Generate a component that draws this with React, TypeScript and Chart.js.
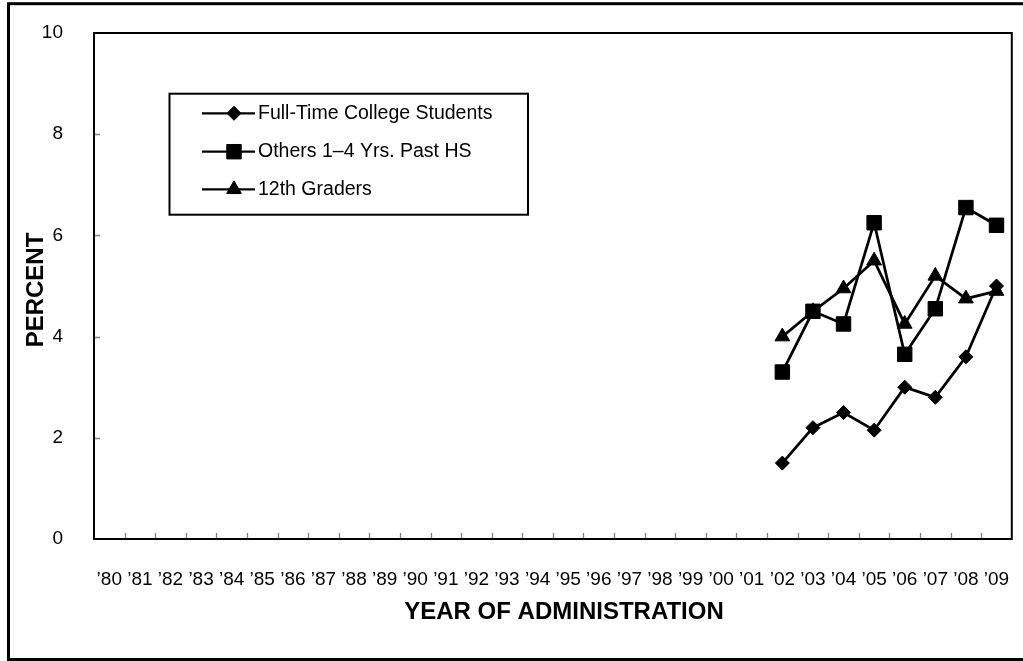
import React, { useEffect, useRef } from "react";
import { Chart, registerables } from "chart.js";

Chart.register(...registerables);

// ---- data ----
const years = [
  "\u201980", "\u201981", "\u201982", "\u201983", "\u201984", "\u201985", "\u201986", "\u201987",
  "\u201988", "\u201989", "\u201990", "\u201991", "\u201992", "\u201993", "\u201994", "\u201995",
  "\u201996", "\u201997", "\u201998", "\u201999", "\u201900", "\u201901", "\u201902", "\u201903",
  "\u201904", "\u201905", "\u201906", "\u201907", "\u201908", "\u201909",
];
const seriesYears = ["\u201902", "\u201903", "\u201904", "\u201905", "\u201906", "\u201907", "\u201908", "\u201909"];
const fullTimeCollege = [1.5, 2.2, 2.5, 2.15, 3.0, 2.8, 3.6, 5.0];
const othersPastHS = [3.3, 4.5, 4.25, 6.25, 3.65, 4.55, 6.55, 6.2];
const twelfthGraders = [4.0, 4.5, 4.95, 5.5, 4.25, 5.2, 4.75, 4.9];
const seriesNames = ["Full-Time College Students", "Others 1\u20134 Yrs. Past HS", "12th Graders"];
const yTickValues = [2, 4, 6, 8];
const xTitle = "YEAR OF ADMINISTRATION";
const yTitle = "PERCENT";

const FONT = "'Liberation Sans', Arial, Helvetica, sans-serif";
const styles = ["rectRot", "rect", "triangle"];
const radii = [7, 10.2, 8.5];

function drawMarker(ctx: CanvasRenderingContext2D, style: string, x: number, y: number, r: number) {
  ctx.beginPath();
  if (style === "rectRot") {
    ctx.moveTo(x, y - r);
    ctx.lineTo(x + r, y);
    ctx.lineTo(x, y + r);
    ctx.lineTo(x - r, y);
    ctx.closePath();
  } else if (style === "rect") {
    const s = Math.SQRT1_2 * r;
    ctx.rect(x - s, y - s, 2 * s, 2 * s);
  } else {
    let a = 0;
    ctx.moveTo(x + Math.sin(a) * r, y - Math.cos(a) * r);
    a += (2 * Math.PI) / 3;
    ctx.lineTo(x + Math.sin(a) * r, y - Math.cos(a) * r);
    a += (2 * Math.PI) / 3;
    ctx.lineTo(x + Math.sin(a) * r, y - Math.cos(a) * r);
    ctx.closePath();
  }
  ctx.fill();
  ctx.stroke();
}

const decor = {
  id: "decor",
  beforeDraw(chart: any) {
    const ctx = chart.ctx as CanvasRenderingContext2D;
    ctx.save();
    ctx.fillStyle = "#ffffff";
    ctx.fillRect(0, 0, chart.width, chart.height);
    ctx.strokeStyle = "#000";
    ctx.lineWidth = 3;
    ctx.strokeRect(8.5, 3.7, 1100, 655.8);
    ctx.restore();
  },
  beforeDatasetsDraw(chart: any) {
    const ctx = chart.ctx as CanvasRenderingContext2D;
    const a = chart.chartArea;
    const xs = chart.scales.x;
    const ys = chart.scales.y;
    ctx.save();
    // inner tick marks
    ctx.strokeStyle = "#808080";
    ctx.lineWidth = 1.3;
    ctx.beginPath();
    for (let i = 1; i < years.length; i++) {
      const px = Math.round((xs.getPixelForTick(i - 1) + xs.getPixelForTick(i)) / 2) + 0.5;
      ctx.moveTo(px, a.bottom);
      ctx.lineTo(px, a.bottom - 6);
    }
    for (const v of yTickValues) {
      const py = Math.round(ys.getPixelForValue(v)) + 0.5;
      ctx.moveTo(a.left, py);
      ctx.lineTo(a.left + 6, py);
    }
    ctx.stroke();
    // plot border
    ctx.strokeStyle = "#000";
    ctx.lineWidth = 2;
    ctx.strokeRect(a.left, a.top, a.right - a.left, a.bottom - a.top);
    ctx.restore();
  },
  afterDraw(chart: any) {
    const ctx = chart.ctx as CanvasRenderingContext2D;
    ctx.save();
    ctx.fillStyle = "#000";
    ctx.strokeStyle = "#000";
    // axis titles
    ctx.font = `bold 24px ${FONT}`;
    ctx.textAlign = "center";
    ctx.textBaseline = "middle";
    ctx.fillText(xTitle, 564, 612.5);
    ctx.save();
    ctx.translate(36.5, 290);
    ctx.rotate(-Math.PI / 2);
    ctx.fillText(yTitle, 0, 0);
    ctx.restore();
    // legend
    ctx.lineWidth = 2;
    ctx.strokeRect(169.5, 93.7, 358.5, 121);
    const rows = [113.3, 151.7, 189.3];
    ctx.font = `19.5px ${FONT}`;
    ctx.textAlign = "left";
    for (let i = 0; i < seriesNames.length; i++) {
      const y = rows[i];
      ctx.lineWidth = 2.25;
      ctx.beginPath();
      ctx.moveTo(202, y);
      ctx.lineTo(255, y);
      ctx.stroke();
      ctx.lineWidth = 1;
      drawMarker(ctx, styles[i], 234, y, radii[i]);
      ctx.fillText(seriesNames[i], 258, y);
    }
    ctx.restore();
  },
};

function toPoints(vals: number[]) {
  return vals.map((v, i) => ({ x: seriesYears[i], y: v }));
}

export default function App() {
  const ref = useRef<HTMLCanvasElement | null>(null);
  useEffect(() => {
    if (!ref.current) return;
    const seriesData = [fullTimeCollege, othersPastHS, twelfthGraders];
    const chart = new Chart(ref.current, {
      type: "line",
      data: {
        labels: years,
        datasets: seriesData.map((vals, i) => ({
          label: seriesNames[i],
          data: toPoints(vals),
          borderColor: "#000",
          backgroundColor: "#000",
          borderWidth: 2.75,
          pointStyle: styles[i] as any,
          pointRadius: radii[i],
          pointBorderWidth: 1,
          pointBorderColor: "#000",
          pointBackgroundColor: "#000",
          tension: 0,
          fill: false,
        })),
      },
      options: {
        animation: false,
        responsive: false,
        devicePixelRatio: 1,
        layout: { padding: { left: 0, top: 33, right: 9, bottom: 0 } },
        plugins: { legend: { display: false }, tooltip: { enabled: false } },
        scales: {
          x: {
            type: "category",
            offset: true,
            grid: { display: false },
            border: { display: false },
            ticks: {
              font: { family: FONT, size: 19 },
              color: "#000",
              padding: 21,
              autoSkip: false,
              maxRotation: 0,
              minRotation: 0,
            },
            afterFit: (s: any) => {
              s.height = 122;
              s.paddingLeft = 0;
              s.paddingRight = 0;
            },
          },
          y: {
            min: 0,
            max: 10,
            grid: { display: false },
            border: { display: false },
            ticks: {
              stepSize: 2,
              font: { family: FONT, size: 19 },
              color: "#000",
              padding: 23,
            },
            afterFit: (s: any) => {
              s.width = 94;
              s.paddingTop = 0;
              s.paddingBottom = 0;
            },
          },
        },
      } as any,
      plugins: [decor],
    });
    return () => chart.destroy();
  }, []);
  return (
    <canvas
      ref={ref}
      width={1023}
      height={661}
      style={{ position: "absolute", left: 0, top: 0, display: "block", width: 1023, height: 661 }}
    />
  );
}
